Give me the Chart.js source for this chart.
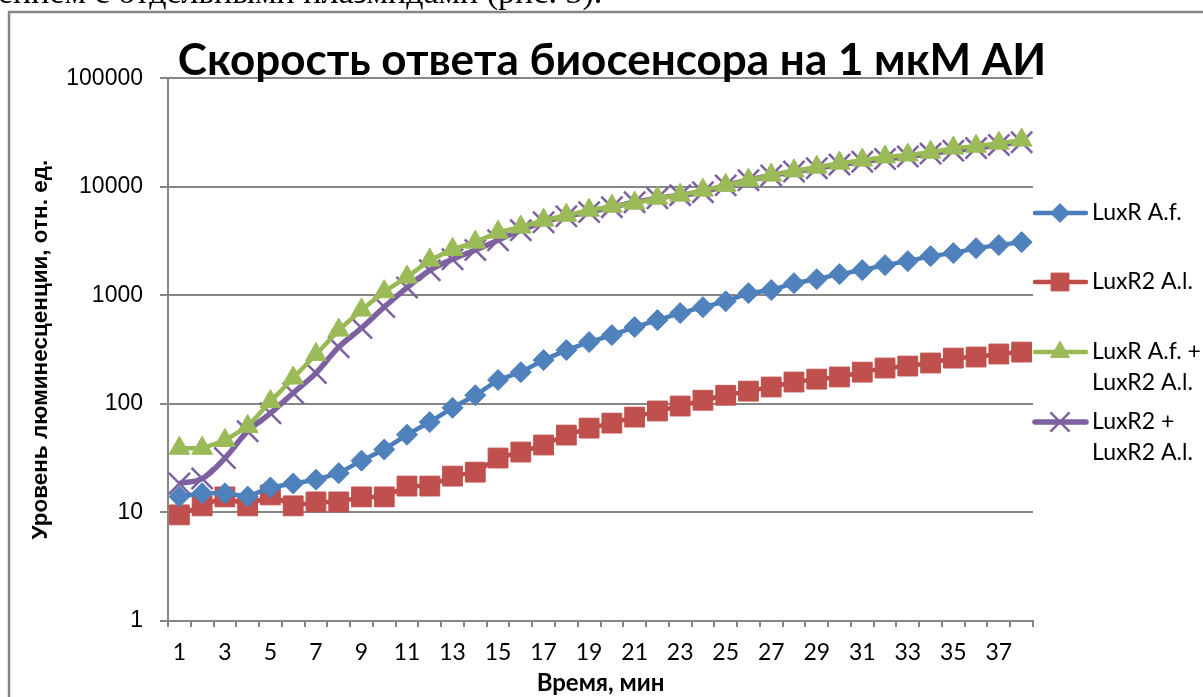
<!DOCTYPE html>
<html><head><meta charset="utf-8">
<script src="https://cdn.jsdelivr.net/npm/chart.js@4"></script>
<style>
html,body{margin:0;padding:0;background:#fff;overflow:hidden;width:1203px;height:697px}
#wrap{position:absolute;left:0;top:0;width:1203px;height:697px}
#above{position:absolute;left:-2px;top:-25px;font-family:"Liberation Serif",serif;font-size:34px;white-space:nowrap;line-height:34px;color:#000}
</style></head><body>
<div id="wrap"><canvas id="c" width="1203" height="697"></canvas></div>
<div id="above">ением с отдельными плазмидами (рис. 3).</div>
<script>
const minutes = [1,2,3,4,5,6,7,8,9,10,11,12,13,14,15,16,17,18,19,20,21,22,23,24,25,26,27,28,29,30,31,32,33,34,35,36,37,38];
const yTicks = [1,10,100,1000,10000,100000];
const seriesNames = [["LuxR A.f."],["LuxR2 A.l."],["LuxR A.f. +","LuxR2 A.l."],["LuxR2 +","LuxR2 A.l."]];
const luxRAf = [14,15,15,14,17,18.5,20,23,30,38,52,68,92,120,166,196,253,313,371,430,510,591,686,778,880,1047,1117,1294,1409,1567,1706,1897,2065,2296,2448,2720,2900,3090];
const luxR2Al = [9.5,11.5,13.9,11.5,14.5,11.5,12.5,12.5,13.9,13.9,17.5,17.5,21.6,23.5,31.7,36,41.8,51.6,59.8,66.5,75.5,86,95.5,108,120,131,143,159,169,177,196,214,223,238,264,270,288,300];
const combined = [39,39,46,62,105,173,285,478,731,1080,1472,2110,2650,3090,3820,4250,4920,5470,6090,6620,7060,7850,8370,9310,10300,11500,12800,14000,15150,16500,17600,18800,19600,20800,22700,23600,25200,26900];
const luxR2plus = [18.5,20.5,31.7,56,82,126,192,333,500,780,1180,1700,2150,2610,3220,3980,4720,5360,5840,6490,7210,7850,8370,8920,10300,11500,12700,13800,14800,16000,17000,18000,19000,20200,21500,22700,24300,25700];

const GRID = '#868686';
const styles = [
  {line:'#4A7EBB', fill:'#4F81BD', point:'rectRot', r:10.5, bw:1, w:4.5, t:0},
  {line:'#BE4B48', fill:'#C0504D', point:'rect', r:14, bw:1, w:4.5, t:0},
  {line:'#98B954', fill:'#9BBB59', point:'triangle', r:12, bw:1, w:4.5, t:0},
  {line:'#7D60A0', fill:'#8064A2', point:'crossRot', r:15, bw:2.5, w:5.5, t:0.35}
];
const values = [luxRAf, luxR2Al, combined, luxR2plus];

const datasets = values.map((d,i)=>({
  label: seriesNames[i].join(' '),
  data: d,
  borderColor: styles[i].line,
  backgroundColor: styles[i].fill,
  pointBackgroundColor: styles[i].fill,
  pointBorderColor: i===3 ? styles[i].line : styles[i].fill,
  pointStyle: styles[i].point,
  pointRadius: styles[i].r,
  pointHoverRadius: styles[i].r,
  pointBorderWidth: styles[i].bw,
  borderWidth: styles[i].w,
  tension: styles[i].t,
  clip: false
}));

const framePlugin = {
  id:'frame',
  beforeDraw(chart){
    const ctx = chart.ctx;
    ctx.save();
    ctx.fillStyle = '#fff';
    ctx.fillRect(0,0,chart.width,chart.height);
    ctx.strokeStyle = GRID;
    ctx.lineWidth = 2.5;
    ctx.beginPath();
    ctx.moveTo(9, chart.height+5);
    ctx.lineTo(9, 12);
    ctx.lineTo(chart.width+5, 12);
    ctx.stroke();
    ctx.restore();
  }
};

const legendPlugin = {
  id:'sideLegend',
  afterDraw(chart){
    const ctx = chart.ctx;
    const ys = [213, 282, 352, 422];
    ctx.save();
    chart.data.datasets.forEach((ds,i)=>{
      const y = ys[i];
      const st = styles[i];
      ctx.strokeStyle = st.line;
      ctx.lineWidth = st.w;
      ctx.lineCap = 'round';
      ctx.beginPath();
      ctx.moveTo(1035, y);
      ctx.lineTo(1086, y);
      ctx.stroke();
      ctx.lineCap = 'butt';
      ctx.fillStyle = st.fill;
      ctx.strokeStyle = i===3 ? st.line : st.fill;
      ctx.lineWidth = st.bw;
      Chart.helpers.drawPoint(ctx, {pointStyle: st.point, radius: st.r*0.9, rotation: 0, borderWidth: st.bw}, 1060, y);
      ctx.fillStyle = '#000';
      ctx.font = '23px Lato';
      ctx.textBaseline = 'middle';
      ctx.textAlign = 'left';
      seriesNames[i].forEach((t,k)=> ctx.fillText(t, 1092, y + k*31));
    });
    ctx.restore();
  }
};

new Chart(document.getElementById('c'), {
  type:'line',
  data:{ labels: minutes, datasets },
  options:{
    responsive:false,
    animation:false,
    devicePixelRatio:1,
    layout:{padding:{left:21,right:0,top:0,bottom:0}},
    plugins:{
      legend:{display:false},
      tooltip:{enabled:false},
      title:{
        display:true,
        text:'Скорость ответа биосенсора на 1 мкМ АИ',
        color:'#000',
        font:{family:'Lato', size:44, weight:'bold', lineHeight:0.8},
        padding:{top:43,bottom:0}
      }
    },
    scales:{
      x:{
        type:'category',
        offset:true,
        grid:{display:true, drawOnChartArea:false, drawTicks:true, tickLength:6, offset:true, color:GRID, lineWidth:2},
        border:{display:true, color:GRID, width:2},
        ticks:{autoSkip:false, maxRotation:0, padding:12, color:'#000', font:{family:'Lato', size:23},
          callback:(v,i)=> i%2===0 ? String(minutes[i]) : ''},
        title:{display:true, text:'Время, мин', color:'#000', font:{family:'Lato', size:24, weight:'bold'}, padding:{top:0,bottom:-1}},
        afterFit:s=>{ s.height = 76; }
      },
      y:{
        type:'logarithmic',
        position:'left',
        min:1, max:100000,
        afterBuildTicks:s=>{ s.ticks = yTicks.map(v=>({value:v})); },
        grid:{color:GRID, lineWidth:2, tickLength:8, drawTicks:true},
        border:{display:true, color:GRID, width:2},
        ticks:{padding:17, color:'#000', font:{family:'Liberation Sans', size:23}, callback:v=>String(v)},
        title:{display:true, text:'Уровень люминесценции, отн. ед.', color:'#000', font:{family:'Liberation Sans', size:22.5, weight:'bold'}, padding:{top:6,bottom:0}},
        afterFit:s=>{ s.width = 147; }
      },
      yR:{
        type:'linear',
        position:'right',
        display:true,
        grid:{display:false},
        border:{display:false},
        ticks:{display:false},
        afterFit:s=>{ s.width = 170; }
      }
    }
  },
  plugins:[framePlugin, legendPlugin]
});
</script>
</body></html>
